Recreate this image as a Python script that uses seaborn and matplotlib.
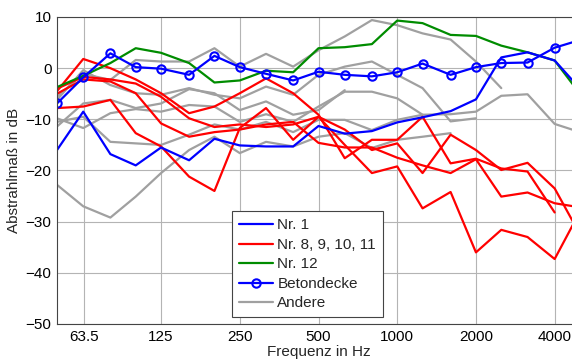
import numpy as np
import pandas as pd
import matplotlib
matplotlib.use("Agg")
import matplotlib.pyplot as plt
import seaborn as sns

# third-octave band centre frequencies
freq = [50, 63, 80, 100, 125, 160, 200, 250, 315, 400, 500, 630, 800,
        1000, 1250, 1600, 2000, 2500, 3150, 4000, 5000]
nan = np.nan

nr1 = [-16.0, -8.5, -16.8, -19.0, -15.5, -18.0, -13.8, -15.1, -15.3, -15.3, -11.3,
       -12.8, -12.3, -10.6, -9.6, -8.4, -6.1, 2.1, 3.1, 1.5, -4.0]
nr12 = [-3.7, -1.5, 1.0, 3.9, 3.0, 1.0, -2.8, -2.4, -0.5, -0.8, 3.9,
        4.1, 4.7, 9.3, 8.8, 6.5, 6.3, 4.4, 3.1, 1.5, -5.0]
beton = [-6.9, -1.8, 2.9, 0.2, -0.1, -1.3, 2.4, 0.2, -1.1, -2.4, -0.7,
         -1.3, -1.6, -0.8, 0.9, -1.3, 0.2, 1.0, 1.1, 4.0, 5.5]

red_a = [-4.5, 1.8, 0.0, -2.2, -4.9, -8.8, -7.5, -4.9, -2.0, -4.9, -9.1,
         -17.6, -14.0, -14.0, -9.5, -18.6, -17.7, -19.6, -20.2, -28.2, nan]
red_b = [-4.0, -1.7, -2.2, -3.0, -5.6, -9.8, -11.5, -11.0, -11.5, -11.0, -9.5,
         -12.0, -16.0, -14.7, -20.5, -13.0, -16.0, -19.9, -18.5, -23.5, -32.5]
red_c = [-5.0, -2.2, -2.6, -4.9, -10.8, -13.4, -12.5, -12.0, -11.0, -10.5, -14.6,
         -15.5, -15.5, -17.5, -19.0, -20.5, -17.8, -25.1, -24.3, -26.4, -27.2]
red_d = [-7.8, -7.5, -6.2, -12.7, -15.3, -21.2, -24.0, -11.7, -7.8, -14.0, -9.5,
         -15.0, -20.5, -19.2, -27.4, -24.2, -36.0, -31.6, -33.0, -37.3, -28.0]

gray_1 = [-5.6, -1.1, -2.3, 1.6, 1.3, 1.3, 3.9, 0.3, 2.8, 0.3, 3.5,
          6.2, 9.4, 8.4, 6.8, 5.6, 1.3, -3.9, nan, nan, nan]
gray_2 = [-6.2, -0.4, -3.3, -4.9, -5.2, -3.9, -5.2, -5.9, -3.6, -5.2, -1.3,
          0.3, 1.3, -1.3, -3.9, -10.4, -9.8, nan, nan, nan, nan]
gray_3 = [-11.4, -6.9, -6.2, -7.8, -6.9, -4.1, -4.9, -8.2, -6.5, -9.1, -8.2,
          -4.3, nan, nan, nan, nan, nan, nan, nan, nan, nan]
gray_4 = [-9.8, -11.7, -8.8, -8.0, -8.5, -7.2, -7.5, -10.5, -9.0, -10.5, -7.5,
          -4.6, -4.6, -5.9, -9.1, -9.0, -8.5, -5.4, -5.1, -10.9, -12.5]
gray_5 = [-10.5, -9.5, -14.4, -14.7, -15.0, -13.0, -11.0, -12.0, -10.5, -12.5, -10.1,
          -10.1, -12.1, -10.1, -9.1, nan, nan, nan, nan, nan, nan]
gray_6 = [-22.8, -27.0, -29.2, -25.1, -20.5, -16.0, -13.4, -16.6, -14.4, -15.3, -13.4,
          -12.7, -15.6, -14.0, -13.4, -12.7, nan, nan, nan, nan, nan]

grays = [gray_1, gray_2, gray_3, gray_4, gray_5, gray_6]
reds = [red_a, red_b, red_c, red_d]

sns.set_style("white")
plt.rcParams["font.family"] = ["Liberation Sans", "DejaVu Sans"]
plt.rcParams["font.size"] = 11

fig = plt.figure(figsize=(5.72, 3.6), dpi=100)
# axes runs to 5000 Hz, a little past the right edge of the picture
ax = fig.add_axes([57/572, 36/360, (580-57)/572, (324-17)/360])

lw = 1.6
for i, g in enumerate(grays):
    sns.lineplot(x=freq, y=g, ax=ax, color="#a0a0a0", lw=lw,
                 label="Andere" if i == 0 else "_nolegend_")
for i, r in enumerate(reds):
    sns.lineplot(x=freq, y=r, ax=ax, color="#ff0000", lw=lw,
                 label="Nr. 8, 9, 10, 11" if i == 0 else "_nolegend_")
sns.lineplot(x=freq, y=nr12, ax=ax, color="#008c00", lw=lw, label="Nr. 12")
sns.lineplot(x=freq, y=nr1, ax=ax, color="#0000ff", lw=lw, label="Nr. 1")
sns.lineplot(x=freq, y=beton, ax=ax, color="#0000ff", lw=lw, marker="o",
             markersize=6, markerfacecolor="none", markeredgecolor="#0000ff",
             markeredgewidth=1.5, label="Betondecke")

ax.set_xscale("log")
ax.set_xlim(50, 5000)
ax.set_ylim(-50, 10)
xt = [63.5, 125, 250, 500, 1000, 2000, 4000]
ax.set_xticks(xt)
ax.set_xticklabels(["63.5", "125", "250", "500", "1000", "2000", "4000"])
ax.xaxis.set_minor_locator(matplotlib.ticker.NullLocator())
ax.set_yticks(range(-50, 11, 10))
ax.grid(True, color="#b4b4b4", lw=0.8)
ax.tick_params(direction="in", length=3, pad=4, colors="#262626", labelcolor="black")
for s in ["left", "bottom", "top", "right"]:
    ax.spines[s].set_color("#444444")
    ax.spines[s].set_linewidth(0.8)

ax.set_xlabel("Frequenz in Hz", labelpad=1)
ax.set_ylabel("Abstrahlmaß in dB", labelpad=3)

h, l = ax.get_legend_handles_labels()
order = ["Nr. 1", "Nr. 8, 9, 10, 11", "Nr. 12", "Betondecke", "Andere"]
hd = dict(zip(l, h))
leg = ax.legend([hd[k] for k in order], order, loc="lower left",
                bbox_to_anchor=(0.335, 0.022), fancybox=False, framealpha=1,
                edgecolor="#444444", handlelength=2.2, borderpad=0.45,
                labelspacing=0.36, handletextpad=0.3, borderaxespad=0)
leg.get_frame().set_linewidth(0.8)

fig.savefig("out.png", dpi=100)
